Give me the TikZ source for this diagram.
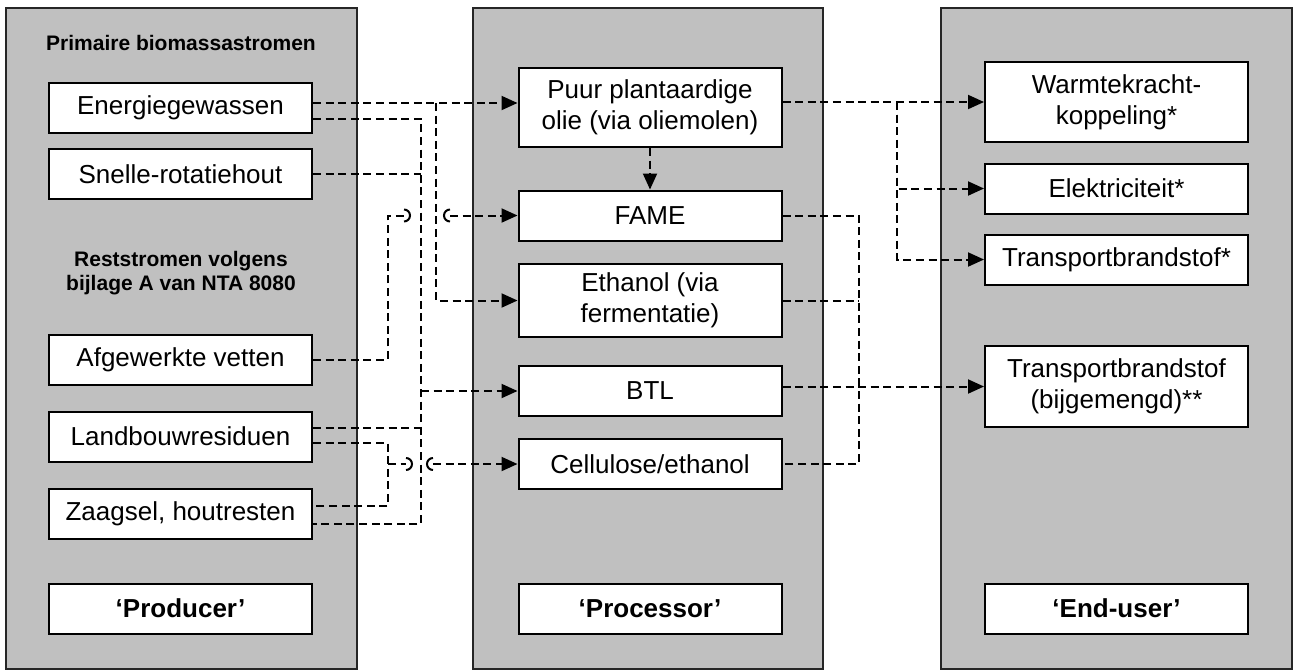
\documentclass[tikz,border=0pt]{standalone}
\usepackage{fontspec}
\setmainfont{Liberation Sans}
\usetikzlibrary{arrows.meta}
\definecolor{panelgray}{HTML}{C0C0C0}

\begin{document}
\begin{tikzpicture}[x=0.5pt,y=-0.5pt,
   panel/.style={draw=black!85,fill=panelgray,line width=1pt},
   box/.style={draw,fill=white,line width=1pt,minimum width=131.5pt,minimum height=25pt,
      inner sep=0pt,align=center,font=\fontsize{13}{15.5}\selectfont},
   role/.style={box,font=\fontsize{13}{15.5}\selectfont\bfseries},
   head/.style={align=center,font=\fontsize{10.5}{12}\selectfont\bfseries},
   link/.style={line width=1pt,dash pattern=on 4pt off 2.3pt},
   hop/.style={line width=1pt},
   flow/.style={link,-{Triangle[length=8pt,width=7pt]}}]
         \useasboundingbox (0,0) rectangle (1294,671) ;
         % de drie kolommen
         \draw[panel] (6,8) rectangle (357,669) ;
         \draw[panel] (473,8) rectangle (823,669) ;
         \draw[panel] (941,8) rectangle (1292,669) ;
         % producer
         \node[head] (primair) at (181,43) {Primaire biomassastromen} ;
         \node[box] (energie) at (180.5,108) {Energiegewassen} ;
         \node[box] (snelle) at (180.5,174) {Snelle-rotatiehout} ;
         \node[head] (rest) at (181,273) {Reststromen volgens\\bijlage A van NTA 8080} ;
         \node[box] (vetten) at (180.5,359.5) {Afgewerkte vetten} ;
         \node[box] (landbouw) at (180.5,436.5) {Landbouwresiduen} ;
         \node[box] (zaagsel) at (180.5,513.5) {Zaagsel, houtresten} ;
         \node[role] (producer) at (180.5,608.5) {‘Producer’} ;
         % processor
         \node[box,minimum height=39.5pt] (olie) at (650,107.5) {Puur plantaardige\\olie (via oliemolen)} ;
         \node[box] (fame) at (650,215.5) {FAME} ;
         \node[box,minimum height=36.5pt] (ethanol) at (650,300.5) {Ethanol (via\\fermentatie)} ;
         \node[box] (btl) at (650,391) {BTL} ;
         \node[box] (cellulose) at (650,464) {Cellulose/ethanol} ;
         \node[role] (processor) at (650,608.5) {‘Processor’} ;
         % end-user
         \node[box,minimum height=40pt] (wkk) at (1116.5,102) {Warmtekracht-\\koppeling*} ;
         \node[box] (elektra) at (1116.5,188.5) {Elektriciteit*} ;
         \node[box] (transport) at (1116.5,259.5) {Transportbrandstof*} ;
         \node[box,minimum height=40.5pt] (bijgemengd) at (1116.5,386.5) {Transportbrandstof\\(bijgemengd)**} ;
         \node[role] (enduser) at (1116.5,608.5) {‘End-user’} ;
         % verticale verzamellijnen
         \coordinate (busa) at (388,0) ;
         \coordinate (busb) at (421,0) ;
         \coordinate (busc) at (436,0) ;
         \coordinate (busd) at (859,0) ;
         \coordinate (buse) at (897,0) ;
         % producer -> processor
         \draw[flow] (energie.east |- 0,103) -- (olie.west |- 0,103) ;
         \draw[flow] (busc |- 0,103) |- (ethanol.west) ;
         \draw[link] (energie.east |- 0,119) -| (busb |- 0,524) -- (zaagsel.east |- 0,524) ;
         \draw[link] (snelle.east) -- (busb |- snelle.east) ;
         \draw[link] (landbouw.east |- 0,428) -- (busb |- 0,428) ;
         \draw[flow] (busb |- btl.west) -- (btl.west) ;
         % afgewerkte vetten springt over twee lijnen
         \draw[link] (vetten.east) -| (busa |- fame.west) -- ++(16,0) coordinate (hopa) ;
         \draw[hop] (hopa) ++(0,6) arc[start angle=90,end angle=-90,radius=6] ;
         \draw[hop] (hopa) ++(46,6) arc[start angle=90,end angle=270,radius=6] ;
         \draw[flow] ([xshift=23pt]hopa) -- (fame.west) ;
         \draw[link] (landbouw.east |- 0,443) -| (busa |- 0,506) -- (zaagsel.east |- 0,506) ;
         \draw[link] (busa |- cellulose.west) -- ++(18,0) coordinate (hopb) ;
         \draw[hop] (hopb) ++(0,6) arc[start angle=90,end angle=-90,radius=6] ;
         \draw[hop] (hopb) ++(27,6) arc[start angle=90,end angle=270,radius=6] ;
         \draw[flow] ([xshift=13.5pt]hopb) -- (cellulose.west) ;
         % processor -> end-user
         \draw[flow] (olie.south) -- (fame.north) ;
         \draw[flow] (olie.east |- wkk.west) -- (wkk.west) ;
         \draw[flow] (buse |- wkk.west) |- (elektra.west) ;
         \draw[flow] (buse |- wkk.west) |- (transport.west) ;
         \draw[link] (fame.east) -| (busd |- cellulose.east) -- (cellulose.east) ;
         \draw[link] (ethanol.east) -- (busd |- ethanol.east) ;
         \draw[flow] (btl.east |- bijgemengd.west) -- (bijgemengd.west) ;
       \end{tikzpicture}
\end{document}
